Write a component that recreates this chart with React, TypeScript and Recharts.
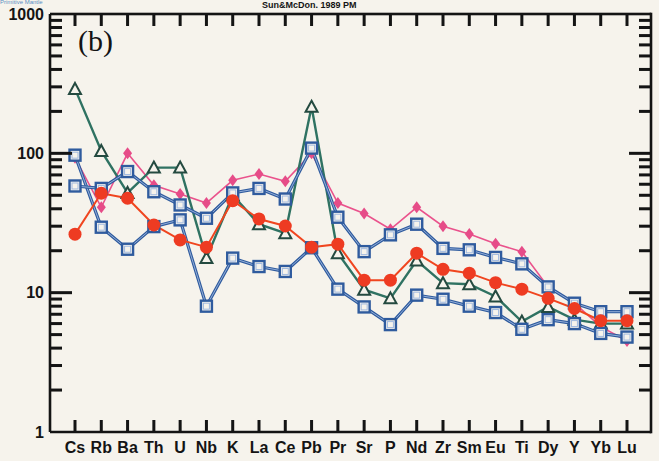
import React from 'react'
import { LineChart, Line, XAxis, YAxis } from 'recharts'

// primitive-mantle normalised trace elements
const elements = ['Cs', 'Rb', 'Ba', 'Th', 'U', 'Nb', 'K', 'La', 'Ce', 'Pb', 'Pr', 'Sr', 'P', 'Nd', 'Zr', 'Sm', 'Eu', 'Ti', 'Dy', 'Y', 'Yb', 'Lu']

const pinkSeries  = [93, 41, 100, 59, 51, 44, 64, 71, 63, 100, 44, 37, 28.5, 41, 30, 26.4, 22.4, 19.7, 11.0, 8.4, 5.7, 4.5]
const redSeries   = [26.3, 51.7, 47.6, 30.6, 23.9, 21.2, 45.7, 33.8, 30.1, 21.2, 22.3, 12.3, 12.3, 19.2, 14.7, 13.8, 11.8, 10.6, 9.1, 7.7, 6.3, 6.3]
const greenSeries = [290, 104, 52, 79, 79, 17.7, 50, 31, 26.7, 216, 19.2, 10.5, 9.1, 17, 11.7, 11.5, 9.4, 6.2, 7.9, 6.4, 6.0, 6.0]
const blueUpper   = [58.3, 56, 74, 53, 42.6, 34.2, 52, 56, 47, 109, 34.8, 19.7, 26, 31, 20.8, 20.3, 17.9, 16.1, 11.0, 8.4, 7.3, 7.3]
const blueLower   = [97, 29.5, 20.5, 29.8, 33.3, 8.0, 17.7, 15.4, 14.2, 21, 10.6, 7.9, 5.9, 9.6, 8.97, 8.0, 7.2, 5.46, 6.4, 6.0, 5.1, 4.8]

const Y_MIN = 1
const Y_MAX = 1000
const majorTicks = [1, 10, 100, 1000]
const logTicks: number[] = []
for (const base of [1, 10, 100]) {
  for (let m = 1; m < 10; m++) logTicks.push(base * m)
}
logTicks.push(1000)

const data = elements.map((el, i) => ({
  el,
  pink: pinkSeries[i],
  red: redSeries[i],
  green: greenSeries[i],
  blueUp: blueUpper[i],
  blueLow: blueLower[i],
}))

const CHART_W = 659
const CHART_H = 461
const LEFT_W = 50
const TOP_M = 14
const RIGHT_M = 8
const BOTTOM_H = 29
const PLOT_RIGHT = CHART_W - RIGHT_M
const PLOT_TOP = TOP_M
const PLOT_BOTTOM = CHART_H - BOTTOM_H

const PAPER = '#f6f3ec'
const INK = '#141414'
const BLUE = '#2f5b9e'
const BLUE_LIGHT = '#9fb8df'
const SANS = 'Liberation Sans, Arial, sans-serif'
const TW = 3     // tick thickness
const TL = 12    // minor tick length
const TL_MAJOR = 22
const FRAME_W = 2.6

const isMajor = (v: number) => majorTicks.includes(v)

// left axis tick: inward marks on both frame sides, decade labels;
// the top tick also closes the frame along the top and right sides
const LeftTick = (props: any) => {
  const { x, y, payload } = props
  const v = payload.value
  const len = isMajor(v) ? TL_MAJOR : TL
  const edge = v === Y_MIN || v === Y_MAX
  return (
    <g>
      {!edge && <rect x={x} y={y - TW / 2} width={len} height={TW} fill={INK} />}
      {!edge && <rect x={PLOT_RIGHT - len} y={y - TW / 2} width={len} height={TW} fill={INK} />}
      {v === Y_MAX && (
        <>
          <rect x={x} y={y - FRAME_W / 2} width={PLOT_RIGHT - x} height={FRAME_W} fill={INK} />
          <rect x={PLOT_RIGHT - FRAME_W / 2} y={y - FRAME_W / 2} width={FRAME_W}
            height={PLOT_BOTTOM - y + FRAME_W} fill={INK} />
        </>
      )}
      {isMajor(v) && (
        <text x={x - 6} y={y} dy={5.5} textAnchor="end" fontFamily={SANS}
          fontWeight="bold" fontSize={16} fill={INK}>{v}</text>
      )}
    </g>
  )
}

// bottom axis tick: inward marks on bottom and top frame, element label
const BottomTick = (props: any) => {
  const { x, y, payload } = props
  return (
    <g>
      <rect x={x - TW / 2} y={y - TL} width={TW} height={TL} fill={INK} />
      <rect x={x - TW / 2} y={PLOT_TOP} width={TW} height={TL} fill={INK} />
      <text x={x} y={y + 21} textAnchor="middle" fontFamily={SANS}
        fontWeight="bold" fontSize={16} fill={INK}>{payload.value}</text>
    </g>
  )
}

const Diamond = (props: any) => {
  const { cx, cy } = props
  if (cx == null || cy == null) return <g />
  return <polygon points={`${cx},${cy - 6} ${cx + 4.5},${cy} ${cx},${cy + 6} ${cx - 4.5},${cy}`} fill="#e64c88" />
}

const Circle = (props: any) => {
  const { cx, cy } = props
  if (cx == null || cy == null) return <g />
  return <circle cx={cx} cy={cy} r={6.5} fill="#ee3b22" />
}

const Triangle = (props: any) => {
  const { cx, cy } = props
  if (cx == null || cy == null) return <g />
  return (
    <polygon points={`${cx},${cy - 6} ${cx + 6},${cy + 5} ${cx - 6},${cy + 5}`}
      fill={PAPER} stroke="#244a40" strokeWidth={2} />
  )
}

const Square = (props: any) => {
  const { cx, cy } = props
  if (cx == null || cy == null) return <g />
  return (
    <g>
      <rect x={cx - 5.5} y={cy - 5.5} width={11} height={11} fill={PAPER} stroke={BLUE} strokeWidth={2.4} />
      <rect x={cx - 3} y={cy - 3} width={6} height={6} fill="none" stroke={BLUE_LIGHT} strokeWidth={1} />
    </g>
  )
}

const axisLine = { stroke: INK, strokeWidth: FRAME_W }

export default function App() {
  return (
    <div style={{ position: 'absolute', left: 0, top: 0, width: CHART_W, height: CHART_H, background: PAPER }}>
      <div style={{ position: 'absolute', left: 0, top: 0, fontFamily: SANS, fontSize: 6, lineHeight: '5px',
        color: '#5b8fc4', whiteSpace: 'nowrap' }}>Primitive Mantle</div>
      <div style={{ position: 'absolute', left: 262, top: 0, fontFamily: SANS, fontSize: 9, lineHeight: '11px',
        fontWeight: 'bold', color: INK, whiteSpace: 'nowrap' }}>Sun&amp;McDon. 1989 PM</div>

      <LineChart width={CHART_W} height={CHART_H} data={data}
        margin={{ top: TOP_M, right: RIGHT_M, bottom: 0, left: 0 }}>
        <XAxis dataKey="el" height={BOTTOM_H} interval={0} padding={{ left: 25, right: 24 }}
          tickSize={0} tickMargin={0} tick={<BottomTick />} axisLine={axisLine} />
        <YAxis width={LEFT_W} scale="log" domain={[Y_MIN, Y_MAX]} allowDataOverflow
          ticks={logTicks} interval={0} tickSize={0} tickMargin={0} tick={<LeftTick />} axisLine={axisLine} />

        <Line type="linear" dataKey="pink" stroke="#ea528c" strokeWidth={1.6}
          dot={<Diamond />} isAnimationActive={false} />
        <Line type="linear" dataKey="green" stroke="#2f7262" strokeWidth={2.4}
          dot={<Triangle />} isAnimationActive={false} />

        <Line type="linear" dataKey="blueLow" stroke={BLUE} strokeWidth={3.2} dot={false} isAnimationActive={false} />
        <Line type="linear" dataKey="blueLow" stroke={BLUE_LIGHT} strokeWidth={0.9} dot={false} isAnimationActive={false} />
        <Line type="linear" dataKey="blueLow" stroke="none" dot={<Square />} isAnimationActive={false} />

        <Line type="linear" dataKey="blueUp" stroke={BLUE} strokeWidth={3.2} dot={false} isAnimationActive={false} />
        <Line type="linear" dataKey="blueUp" stroke={BLUE_LIGHT} strokeWidth={0.9} dot={false} isAnimationActive={false} />
        <Line type="linear" dataKey="blueUp" stroke="none" dot={<Square />} isAnimationActive={false} />

        <Line type="linear" dataKey="red" stroke="#f0451f" strokeWidth={2}
          dot={<Circle />} isAnimationActive={false} />
      </LineChart>

      <div style={{ position: 'absolute', left: 78, top: 24, fontFamily: 'Liberation Serif, Times New Roman, serif',
        fontSize: 30, color: INK }}>(b)</div>
    </div>
  )
}
